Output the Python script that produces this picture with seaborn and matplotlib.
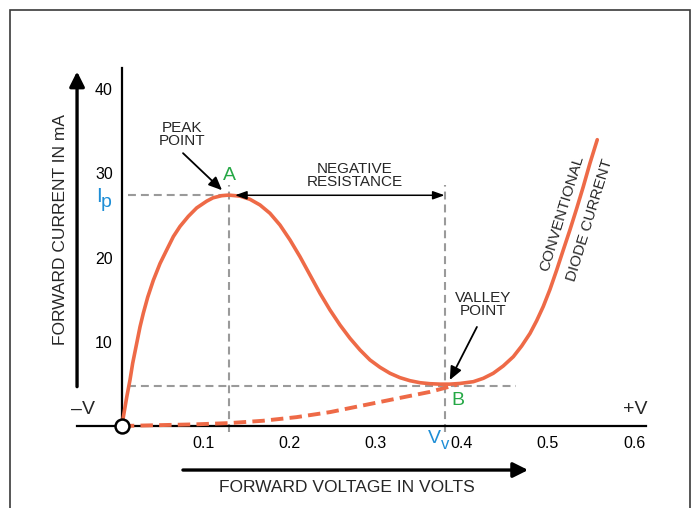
import matplotlib
matplotlib.use("Agg")
import matplotlib.pyplot as plt
import seaborn as sns
import pandas as pd
from matplotlib.patches import Rectangle

# tunnel diode I-V curve
peak_v = [0.005, 0.0108, 0.0145, 0.0176, 0.0223, 0.0262, 0.030, 0.0351, 0.0416, 0.0494,
          0.0571, 0.0649, 0.0726, 0.0823, 0.092, 0.1036, 0.111, 0.121, 0.129,
          0.1423, 0.1539, 0.1655, 0.1771, 0.1887, 0.2004, 0.212, 0.2236, 0.2352,
          0.2468, 0.2584, 0.270, 0.2817, 0.2933, 0.3049, 0.3165, 0.3281, 0.3397,
          0.3514, 0.363, 0.3746, 0.3862, 0.3978, 0.4133, 0.4249, 0.4365, 0.4481,
          0.4598, 0.4695, 0.4792, 0.4869, 0.4946, 0.5023, 0.5101, 0.5178, 0.5256,
          0.5333, 0.541, 0.5488, 0.5573]
peak_i = [0.0, 3.48, 5.46, 7.44, 9.82, 11.8, 13.4, 15.3, 17.3, 19.3,
          20.9, 22.5, 23.7, 24.9, 25.9, 26.7, 27.1, 27.35, 27.42,
          27.3, 26.92, 26.25, 25.26, 23.87, 22.09, 20.1, 17.93, 15.76,
          13.78, 12.0, 10.42, 9.03, 7.84, 6.97, 6.26, 5.74, 5.38,
          5.14, 5.02, 4.97, 4.97, 5.05, 5.26, 5.66, 6.26, 7.13,
          8.23, 9.5, 11.0, 12.5, 14.2, 16.2, 18.5, 20.9, 23.3,
          25.8, 28.4, 31.2, 34.0]

diode_v = [0.005, 0.049, 0.092, 0.131, 0.169, 0.208, 0.247, 0.2855, 0.324, 0.363, 0.394]
diode_i = [0.0, 0.1, 0.2, 0.35, 0.62, 1.05, 1.65, 2.45, 3.25, 4.05, 4.9]

x_ticks = [0.1, 0.2, 0.3, 0.4, 0.5, 0.6]
y_ticks = [10, 20, 30, 40]

peak_pt = (0.129, 27.4)
valley_pt = (0.381, 4.7)

orange = "#EE6A47"
green = "#25A845"
blue = "#1E8ED6"
gray = "#9A9A9A"

sns.set_style("white")
plt.rcParams["font.family"] = ["Liberation Sans Narrow", "Liberation Sans", "DejaVu Sans"]

fig = plt.figure(figsize=(6.96, 5.08), dpi=100)
ax = fig.add_axes([0, 0, 1, 1])
ax.set_xlim(-0.1365, 0.672)
ax.set_ylim(-9.74, 50.59)
ax.patch.set_alpha(0)

# outer frame
fig.patches.append(Rectangle((10 / 696, -0.05), 680 / 696, 1.05 - 10 / 508,
                             transform=fig.transFigure, fill=False,
                             edgecolor="#3a3a3a", linewidth=1.2))

# axes spines at the origin
for s in ["top", "right"]:
    ax.spines[s].set_visible(False)
ax.spines["left"].set_position(("data", 0.005))
ax.spines["left"].set_bounds(0, 42.5)
ax.spines["bottom"].set_position(("data", 0))
ax.spines["bottom"].set_bounds(-0.047, 0.6135)
for s in ["left", "bottom"]:
    ax.spines[s].set_linewidth(1.6)
    ax.spines[s].set_color("black")

ax.set_xticks(x_ticks)
ax.set_xticklabels([str(t) for t in x_ticks])
ax.set_yticks(y_ticks)
ax.set_yticklabels([str(t) for t in y_ticks])
ax.tick_params(axis="both", direction="inout", length=7, width=1.4,
               labelsize=11.5, pad=3, colors="black")
ax.tick_params(axis="x", pad=4)

# guide lines
gl = dict(color=gray, linewidth=1.5, dashes=(3.8, 2.4), zorder=1)
ax.plot([0.012, peak_pt[0]], [peak_pt[1], peak_pt[1]], **gl)
ax.plot([peak_pt[0], peak_pt[0]], [-0.7, 28.6], **gl)
ax.plot([0.012, 0.4625], [valley_pt[1], valley_pt[1]], **gl)
ax.plot([valley_pt[0], valley_pt[0]], [-0.7, 28.6], **gl)

# curves
df_peak = pd.DataFrame({"v": peak_v, "i": peak_i})
df_diode = pd.DataFrame({"v": diode_v, "i": diode_i})
sns.lineplot(data=df_peak, x="v", y="i", sort=False, estimator=None,
             color=orange, linewidth=2.6, ax=ax, zorder=3)
sns.lineplot(data=df_diode, x="v", y="i", sort=False, estimator=None,
             color=orange, linewidth=2.8, ax=ax, zorder=3)
ax.lines[-1].set_dashes((3.2, 1.6))
ax.set_xlabel("")
ax.set_ylabel("")

ax.plot([0.005], [0], marker="o", markersize=10, markerfacecolor="white",
        markeredgecolor="black", markeredgewidth=1.8, zorder=5, clip_on=False)

# big axis arrows
big = dict(arrowstyle="-|>,head_length=0.9,head_width=0.45", color="black",
           linewidth=2.4, shrinkA=0, shrinkB=0)
ax.annotate("", xy=(-0.047, 42.1), xytext=(-0.047, 4.67), arrowprops=big)
ax.annotate("", xy=(0.477, -5.23), xytext=(0.076, -5.23), arrowprops=big)

ax.text(-0.0668, 23.3, "FORWARD CURRENT IN mA", rotation=90, fontsize=12.5,
        ha="center", va="center")
ax.text(0.2666, -7.3, "FORWARD VOLTAGE IN VOLTS", fontsize=12.5,
        ha="center", va="center")

# annotations
small = dict(arrowstyle="-|>,head_length=0.8,head_width=0.35", color="black",
             linewidth=1.3, shrinkA=0, shrinkB=0)
ax.text(0.075, 34.6, "PEAK\nPOINT", fontsize=11, ha="center", va="center",
        linespacing=0.9)
ax.annotate("", xy=(0.1214, 28.0), xytext=(0.0761, 32.4), arrowprops=small)

ax.text(0.276, 29.7, "NEGATIVE\nRESISTANCE", fontsize=11, ha="center",
        va="center", linespacing=0.9)
ax.annotate("", xy=(0.380, 27.4), xytext=(0.1365, 27.4),
            arrowprops=dict(arrowstyle="<|-|>,head_length=0.7,head_width=0.25",
                            color="black", linewidth=1.1, shrinkA=0, shrinkB=0))

ax.text(0.4245, 14.4, "VALLEY\nPOINT", fontsize=11, ha="center", va="center",
        linespacing=0.9)
ax.annotate("", xy=(0.386, 5.46), xytext=(0.4175, 11.76), arrowprops=small)

ax.text(0.1295, 29.8, "A", fontsize=14, color=green, ha="center", va="center")
ax.text(0.3955, 3.0, "B", fontsize=14, color=green, ha="center", va="center")

ax.text(-0.0215, 27.3, "I", fontsize=15, color=blue, ha="center", va="center")
ax.text(-0.0135, 26.6, "p", fontsize=14, color=blue, ha="center", va="center")
ax.text(0.368, -1.45, "V", fontsize=14, color=blue, ha="center", va="center")
ax.text(0.381, -2.2, "v", fontsize=12, color=blue, ha="center", va="center")

ax.text(-0.040, 2.0, "\u2013V", fontsize=14, ha="center", va="center")
ax.text(0.602, 2.0, "+V", fontsize=14, ha="center", va="center")

ax.text(0.516, 25.3, "CONVENTIONAL", fontsize=11, rotation=73,
        ha="center", va="center", rotation_mode="anchor")
ax.text(0.549, 24.5, "DIODE CURRENT", fontsize=11, rotation=73,
        ha="center", va="center", rotation_mode="anchor")

fig.savefig("out.png", dpi=100)
